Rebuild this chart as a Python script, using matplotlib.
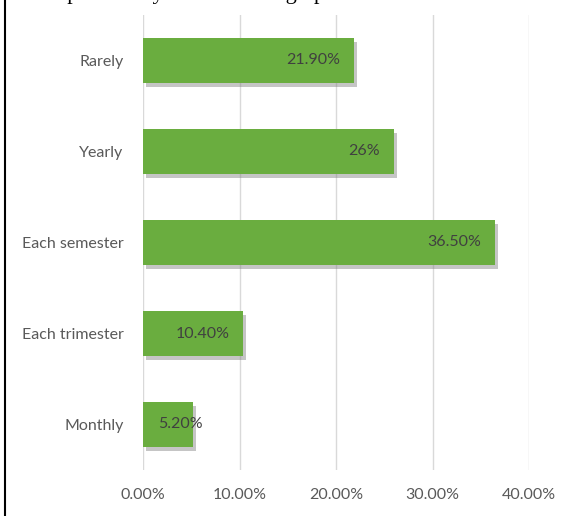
import matplotlib
matplotlib.use('Agg')
import matplotlib.pyplot as plt
import matplotlib.patheffects as pe
from matplotlib.lines import Line2D

# data
categories = ['Monthly', 'Each trimester', 'Each semester', 'Yearly', 'Rarely']
values = [5.2, 10.4, 36.5, 26.0, 21.9]
value_labels = ['5.20%', '10.40%', '36.50%', '26%', '21.90%']
xticks = [0, 10, 20, 30, 40]
xtick_labels = ['0.00%', '10.00%', '20.00%', '30.00%', '40.00%']

plt.rcParams['font.family'] = ['Lato', 'DejaVu Sans']

fig = plt.figure(figsize=(5.64, 5.16), dpi=100)
ax = fig.add_axes([143 / 564, 46 / 516, (529 - 143) / 564, (470 - 15) / 516])

bars = ax.barh(range(len(categories)), values, height=0.5, color='#6aad3f', zorder=3)
for b in bars:
    b.set_path_effects([pe.SimplePatchShadow(offset=(2, -3), shadow_rgbFace='#7f7f7f', alpha=0.45),
                        pe.Normal()])

# value labels (Excel-style inside end)
for i, (v, lab) in enumerate(zip(values, value_labels)):
    if v < 8:
        ax.annotate(lab, (0, i), xytext=(11, 0), textcoords='offset points',
                    ha='left', va='center', fontsize=11.5, color='#404040', zorder=4)
    else:
        ax.annotate(lab, (v, i), xytext=(-10, 0), textcoords='offset points',
                    ha='right', va='center', fontsize=11.5, color='#404040', zorder=4)

ax.set_xlim(0, 40)
ax.set_ylim(-0.5, len(categories) - 0.5)
ax.set_xticks(xticks)
ax.set_xticklabels(xtick_labels)
ax.set_yticks(range(len(categories)))
ax.set_yticklabels(categories)
ax.tick_params(axis='both', length=0, labelsize=11.5, labelcolor='#595959')
ax.tick_params(axis='y', pad=14)
ax.tick_params(axis='x', pad=13)
ax.grid(True, axis='x', color='#d9d9d9', linewidth=1, zorder=0)
for s in ax.spines.values():
    s.set_visible(False)

# cropped caption above the chart, only the descenders show
fig.text(27 / 564, 1 + 1 / 516, 'The periodicity of the use of graphs', family='Liberation Serif',
         fontsize=16, color='black', ha='left', va='baseline')

# frame line on the left
fig.add_artist(Line2D([4.5 / 564, 4.5 / 564], [0, 1], transform=fig.transFigure, color='black', linewidth=1.5))

plt.savefig('out.png', dpi=100)
